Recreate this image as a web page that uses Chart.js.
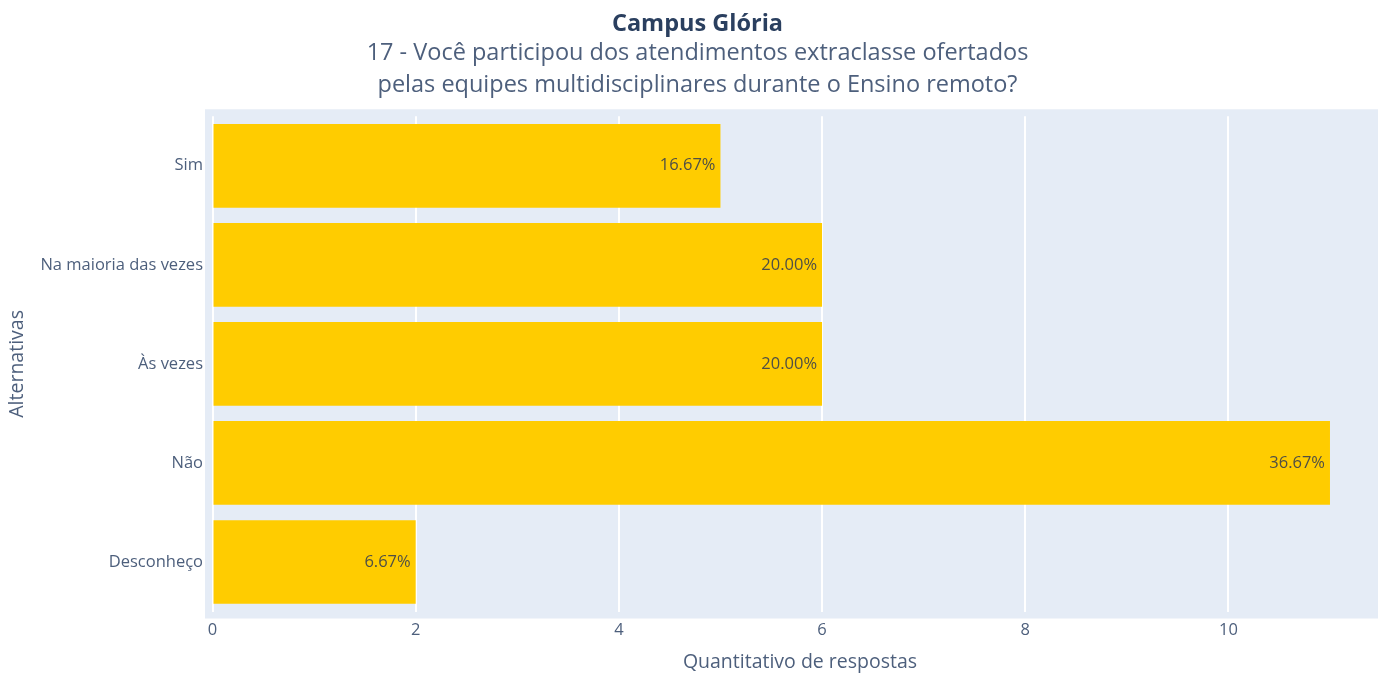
<!DOCTYPE html>
<html>
<head>
<meta charset="utf-8">
<script src="https://cdn.jsdelivr.net/npm/chart.js@4.4.0/dist/chart.umd.min.js"></script>
<style>
    html, body { margin: 0; padding: 0; background: #fff; overflow: hidden; }
    #wrap { width: 1396px; height: 675px; }
</style>
</head>
<body>
<div id="wrap"><canvas id="grafico" width="1396" height="675"></canvas></div>
<script>
    var categorias = ['Sim', 'Na maioria das vezes', 'Às vezes', 'Não', 'Desconheço'];
    var respostas = [5, 6, 6, 11, 2];
    var percentuais = ['16.67%', '20.00%', '20.00%', '36.67%', '6.67%'];
    var xTicks = [0, 2, 4, 6, 8, 10];

    var corTitulo = '#2a3f5f';
    var corTexto = '#4d5f7c';
    var fonte = '"Open Sans", "Noto Sans", sans-serif';

    // fundo do plot, um pouco maior que a area dos dados (como o autorange do plotly)
    var fundoPlot = {
        id: 'fundoPlot',
        beforeDraw: function (chart) {
            var a = chart.chartArea;
            var ctx = chart.ctx;
            var pad = 7;
            ctx.save();
            ctx.fillStyle = '#E5ECF6';
            ctx.fillRect(a.left, a.top - pad, a.right - a.left, a.bottom - a.top + 2 * pad);
            ctx.restore();
        }
    };

    var rotulos = {
        id: 'rotulos',
        afterDatasetsDraw: function (chart) {
            var ctx = chart.ctx;
            var meta = chart.getDatasetMeta(0);
            ctx.save();
            ctx.font = '16.5px ' + fonte;
            ctx.fillStyle = '#4f4f45';
            ctx.textAlign = 'right';
            ctx.textBaseline = 'middle';
            meta.data.forEach(function (bar, i) {
                ctx.fillText(percentuais[i], bar.x - 5, bar.y);
            });
            ctx.restore();
        }
    };

    new Chart(document.getElementById('grafico').getContext('2d'), {
        type: 'bar',
        data: {
            labels: categorias,
            datasets: [{
                data: respostas,
                backgroundColor: '#FFCC00',
                borderWidth: 0,
                barPercentage: 0.845,
                categoryPercentage: 1
            }]
        },
        options: {
            indexAxis: 'y',
            responsive: false,
            animation: false,
            layout: { padding: { left: 0, right: 1, top: 0, bottom: 0 } },
            plugins: {
                legend: { display: false },
                tooltip: { enabled: false },
                title: {
                    display: true,
                    text: 'Campus Glória',
                    color: corTitulo,
                    font: { family: fonte, size: 23.5, weight: 'bold', lineHeight: 1.1 },
                    padding: { top: 11.5, bottom: 0 }
                },
                subtitle: {
                    display: true,
                    text: ['17 - Você participou dos atendimentos extraclasse ofertados',
                        'pelas equipes multidisciplinares durante o Ensino remoto?'],
                    color: corTexto,
                    font: { family: fonte, size: 23.5, lineHeight: 1.36 },
                    padding: { top: 0, bottom: 15 }
                }
            },
            scales: {
                x: {
                    type: 'linear',
                    min: -0.074,
                    max: 11.64,
                    afterBuildTicks: function (scale) {
                        scale.ticks = xTicks.map(function (v) { return { value: v }; });
                    },
                    afterFit: function (scale) { scale.height = 63.5; },
                    grid: { color: '#ffffff', lineWidth: 2, drawTicks: false },
                    border: { display: false },
                    ticks: { color: corTexto, font: { family: fonte, size: 16.5 }, padding: 9 },
                    title: {
                        display: true,
                        text: 'Quantitativo de respostas',
                        color: corTexto,
                        font: { family: fonte, size: 19.5 },
                        padding: { top: 4, bottom: 1 }
                    }
                },
                y: {
                    afterFit: function (scale) { scale.width = 205; },
                    grid: { display: false, drawTicks: false },
                    border: { display: false },
                    ticks: { color: corTexto, font: { family: fonte, size: 16.5 }, padding: 2 },
                    title: {
                        display: true,
                        text: 'Alternativas',
                        color: corTexto,
                        font: { family: fonte, size: 19.5 },
                        padding: { top: 6, bottom: 0 }
                    }
                }
            }
        },
        plugins: [fundoPlot, rotulos]
    });
</script>
</body>
</html>
